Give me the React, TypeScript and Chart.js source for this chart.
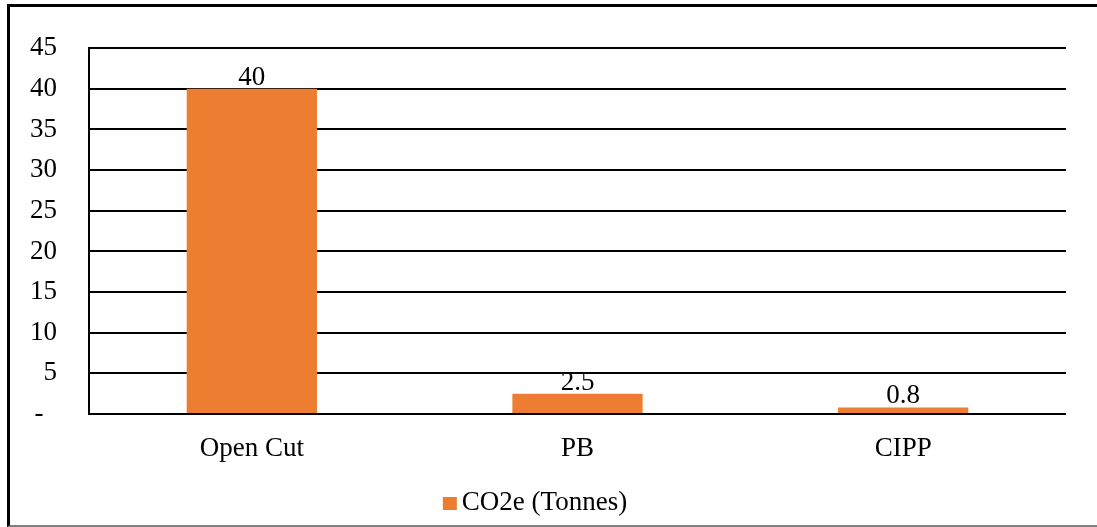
import { useEffect, useRef } from "react";
import { Chart, registerables } from "chart.js";

Chart.register(...registerables);

// Emissions per installation method
const categories = ["Open Cut", "PB", "CIPP"];
const co2eTonnes = [40, 2.5, 0.8];
const seriesLabel = "CO2e (Tonnes)";
const yMin = 0;
const yMax = 45;
const yStep = 5;

const FONT_FAMILY = "'Liberation Serif', 'Times New Roman', serif";
const FONT_SIZE = 27;
const BAR_COLOR = "#ED7D31";
const LEGEND_HEIGHT = 46;

// Writes each bar's value just above its top edge
const valueLabels = {
  id: "valueLabels",
  afterDatasetsDraw(chart: any) {
    const ctx = chart.ctx;
    const meta = chart.getDatasetMeta(0);
    ctx.save();
    ctx.font = `${FONT_SIZE}px ${FONT_FAMILY}`;
    ctx.fillStyle = "#000";
    ctx.textAlign = "center";
    ctx.textBaseline = "alphabetic";
    meta.data.forEach((bar: any, i: number) => {
      ctx.fillText(String(co2eTonnes[i]), bar.x, bar.y - 4);
    });
    ctx.restore();
  },
};

// Compact legend below the axis: square swatch with a tight gap before the text
const compactLegend = {
  id: "compactLegend",
  afterDraw(chart: any) {
    const ctx = chart.ctx;
    const ds = chart.data.datasets[0];
    const swatch = 14;
    const gap = 5;
    ctx.save();
    ctx.font = `${FONT_SIZE}px ${FONT_FAMILY}`;
    const textW = ctx.measureText(ds.label).width;
    const total = swatch + gap + textW;
    const cx = chart.width / 2 - 13.5;
    const x0 = cx - total / 2;
    const cy = chart.height - LEGEND_HEIGHT / 2 - 1;
    ctx.fillStyle = ds.backgroundColor;
    ctx.fillRect(x0, cy - 6, swatch, 13);
    ctx.fillStyle = "#000";
    ctx.textAlign = "left";
    ctx.textBaseline = "middle";
    ctx.fillText(ds.label, x0 + swatch + gap, cy);
    ctx.restore();
  },
};

export default function App() {
  const canvasRef = useRef<HTMLCanvasElement | null>(null);

  useEffect(() => {
    if (!canvasRef.current) return;
    const chart = new Chart(canvasRef.current, {
      type: "bar",
      data: {
        labels: categories,
        datasets: [
          {
            label: seriesLabel,
            data: co2eTonnes,
            backgroundColor: BAR_COLOR,
            borderWidth: 0,
            categoryPercentage: 1,
            barPercentage: 0.4,
          },
        ],
      },
      options: {
        responsive: false,
        animation: false,
        layout: {
          padding: { top: 48, right: 31, left: 14, bottom: LEGEND_HEIGHT },
        },
        plugins: {
          tooltip: { enabled: false },
          legend: { display: false },
        },
        scales: {
          x: {
            grid: { display: false, drawTicks: false },
            border: { display: false },
            ticks: {
              color: "#000",
              padding: 19,
              font: { family: FONT_FAMILY, size: FONT_SIZE },
            },
            afterFit: (scale: any) => {
              scale.height = 67;
            },
          },
          y: {
            min: yMin,
            max: yMax,
            grid: { color: "#000", lineWidth: 2, drawTicks: false },
            border: { display: true, color: "#000", width: 2 },
            ticks: {
              stepSize: yStep,
              color: "#000",
              padding: 32,
              font: { family: FONT_FAMILY, size: FONT_SIZE },
              callback: (v: any) => (Number(v) === 0 ? "-  " : String(v)),
            },
            afterFit: (scale: any) => {
              scale.width = 75;
            },
          },
        },
      },
      plugins: [valueLabels, compactLegend],
    });
    return () => chart.destroy();
  }, []);

  return (
    <div
      style={{
        position: "fixed",
        left: 0,
        top: 0,
        width: 1097,
        height: 527,
        overflow: "hidden",
        background: "#fff",
      }}
    >
      <div
        style={{
          position: "absolute",
          left: 7,
          top: 4,
          width: 1100,
          height: 523,
          boxSizing: "border-box",
          borderTop: "3px solid #000",
          borderLeft: "3px solid #000",
          borderBottom: "2px solid #7f7f7f",
        }}
      />
      <canvas
        ref={canvasRef}
        width={1097}
        height={527}
        style={{ position: "absolute", left: 0, top: 0 }}
      />
    </div>
  );
}
